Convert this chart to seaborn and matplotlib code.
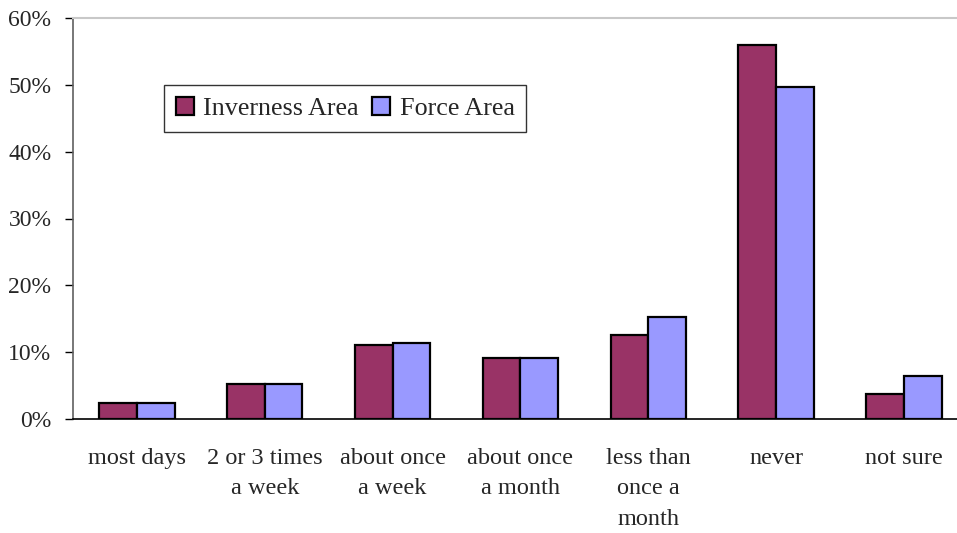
import pandas as pd
import numpy as np
import matplotlib.pyplot as plt
import seaborn as sns

# === Data ===
categories = ['most days', '2 or 3 times\na week', 'about once\na week',
              'about once\na month', 'less than\nonce a\nmonth', 'never', 'not sure']
inverness = [2.4, 5.3, 11.1, 9.2, 12.6, 56.0, 3.8]
force = [2.4, 5.3, 11.3, 9.2, 15.3, 49.7, 6.5]
series_names = ['Inverness Area', 'Force Area']
colors = ['#993366', '#9999FF']

df = pd.DataFrame({
    'category': categories * 2,
    'value': inverness + force,
    'area': [series_names[0]] * len(categories) + [series_names[1]] * len(categories),
})

sns.set_style('white')
plt.rcParams['font.family'] = ['Liberation Serif', 'DejaVu Serif']

fig = plt.figure(figsize=(9.57, 5.33), dpi=100)
ax = fig.add_axes([73 / 957, 114 / 533, 0.935, 401 / 533])

sns.barplot(data=df, x='category', y='value', hue='area', order=categories,
            hue_order=series_names, palette=colors, width=0.59,
            edgecolor='black', linewidth=1.6, saturation=1, ax=ax)

# === Axes ===
ax.set_ylim(0, 60)
ax.set_xlim(-0.5, 6.5)
ax.set_yticks(np.arange(0, 61, 10))
ax.set_yticklabels([f'{v}%' for v in range(0, 61, 10)], fontsize=17)
ax.set_xlabel('')
ax.set_ylabel('')

ax.set_xticks(range(len(categories)))
ax.set_xticklabels(categories, fontsize=17.5, linespacing=1.58)
ax.tick_params(axis='x', which='major', length=0, pad=21)
ax.set_xticks(np.arange(-0.5, 7, 1), minor=True)
ax.tick_params(axis='x', which='minor', length=6, width=1.2, color='#606060', direction='out')
ax.tick_params(axis='y', length=5.5, width=1, color='black', direction='out', left=True, pad=10)

for side in ['left', 'bottom']:
    ax.spines[side].set_color('#606060')
    ax.spines[side].set_linewidth(1.2)
ax.spines['bottom'].set_color('black')
ax.spines['right'].set_visible(False)
ax.spines['top'].set_color('#c8c8c8')
ax.spines['top'].set_linewidth(1.5)

# === Legend ===
leg = ax.legend(loc='upper left', bbox_to_anchor=(0.102, 0.833), ncol=2, fontsize=18.8,
                frameon=True, fancybox=False, edgecolor='black', handlelength=0.7,
                handleheight=0.7, handletextpad=0.35, columnspacing=0.5,
                borderpad=0.45, borderaxespad=0)
leg.get_frame().set_linewidth(1.0)

fig.savefig('out.png', dpi=100)
